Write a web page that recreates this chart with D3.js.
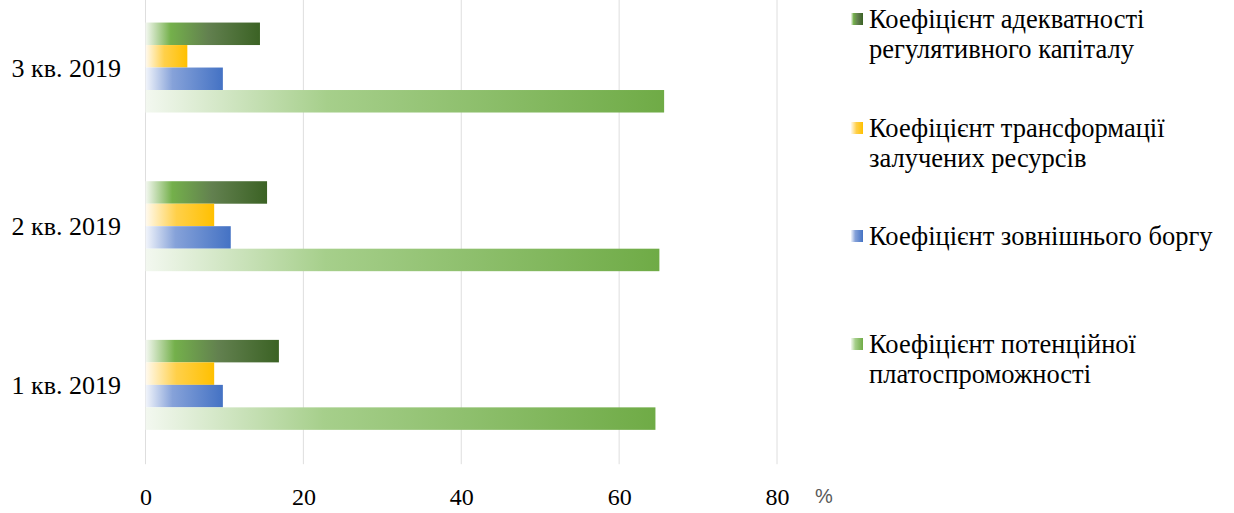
<!DOCTYPE html>
<html>
<head>
<meta charset="utf-8">
<script src="https://cdn.jsdelivr.net/npm/d3@7"></script>
<style>
  body { margin: 0; background: #fff; }
  svg { display: block; }
  svg text { font-family: "Liberation Serif", "Times New Roman", serif; }
</style>
</head>
<body>
<div class="chart"></div>
<script>
// data
const categories = ["3 кв. 2019", "2 кв. 2019", "1 кв. 2019"];
const seriesKeys = ["adequacy", "transformation", "externalDebt", "solvency"];
const seriesLabels = [
  ["Коефіцієнт адекватності", "регулятивного капіталу"],
  ["Коефіцієнт трансформації", "залучених ресурсів"],
  ["Коефіцієнт зовнішнього боргу"],
  ["Коефіцієнт потенційної", "платоспроможності"]
];
// values in category order (3 кв, 2 кв, 1 кв)
const adequacy = [14.5, 15.4, 16.9];
const transformation = [5.3, 8.7, 8.7];
const externalDebt = [9.8, 10.8, 9.8];
const solvency = [65.7, 65.1, 64.6];
const xTicks = [0, 20, 40, 60, 80];

const seriesValues = { adequacy, transformation, externalDebt, solvency };

// gradient stops per series: [offset, colour]
const gradients = {
  adequacy: [[0, "#f4f8f1"], [0.22, "#74b04b"], [0.55, "#62804f"], [1, "#3b6224"]],
  transformation: [[0, "#fffaf0"], [0.45, "#ffd04a"], [1, "#ffc000"]],
  externalDebt: [[0, "#f2f5fb"], [0.35, "#86a2d9"], [1, "#4472c4"]],
  solvency: [[0, "#f3f8f0"], [0.35, "#a6cf8b"], [1, "#6fab46"]]
};

const width = 1234, height = 513;
const serif = "'Liberation Serif', 'Times New Roman', serif";

const svg = d3.select(".chart")
  .append("svg")
  .attr("width", width)
  .attr("height", height);

const defs = svg.append("defs");
seriesKeys.forEach(k => {
  const g = defs.append("linearGradient")
    .attr("id", "grad-" + k)
    .attr("x1", 0).attr("x2", 1).attr("y1", 0).attr("y2", 0);
  g.selectAll("stop")
    .data(gradients[k])
    .join("stop")
    .attr("offset", d => d[0])
    .attr("stop-color", d => d[1]);
});

const plotBottom = 464.2;

const x = d3.scaleLinear()
  .domain([0, 80])
  .range([145.5, 777]);

const y = d3.scaleBand()
  .domain(categories)
  .range([-11.8, plotBottom])
  .paddingInner(0.433)
  .paddingOuter(0.2165);

const ySub = d3.scaleBand()
  .domain(seriesKeys)
  .range([0, y.bandwidth()]);

// gridlines
svg.append("g")
  .selectAll("line")
  .data(xTicks)
  .join("line")
  .attr("x1", d => x(d)).attr("x2", d => x(d))
  .attr("y1", 0).attr("y2", plotBottom)
  .attr("stroke", "#dedede")
  .attr("stroke-width", 1);

// bars
const groups = svg.append("g")
  .selectAll("g")
  .data(categories)
  .join("g")
  .attr("transform", d => `translate(0,${y(d)})`);

groups.selectAll("rect")
  .data((c, i) => seriesKeys.map(k => ({ key: k, value: seriesValues[k][i] })))
  .join("rect")
  .attr("x", x(0))
  .attr("y", d => ySub(d.key))
  .attr("width", d => x(d.value) - x(0))
  .attr("height", ySub.bandwidth())
  .attr("fill", d => `url(#grad-${d.key})`);

// category labels
svg.append("g")
  .selectAll("text")
  .data(categories)
  .join("text")
  .attr("x", 121)
  .attr("y", d => y(d) + y.bandwidth() / 2)
  .attr("dy", "0.35em")
  .attr("text-anchor", "end")
  .style("font-family", serif)
  .style("font-size", "26px")
  .text(d => d);

// x axis labels
const xAxis = svg.append("g")
  .attr("transform", `translate(0,${plotBottom})`)
  .call(d3.axisBottom(x).tickValues(xTicks).tickSize(0).tickPadding(24).tickFormat(d3.format("d")));
xAxis.select(".domain").remove();
xAxis.selectAll("text")
  .style("font-family", serif)
  .style("font-size", "24px")
  .attr("fill", "#000");

svg.append("text")
  .attr("x", 815)
  .attr("y", 503)
  .style("font-family", "'Liberation Sans', Arial, sans-serif")
  .style("font-size", "20px")
  .attr("fill", "#595959")
  .text("%");

// legend
const legendTop = [28, 137, 245, 353];
const legend = svg.append("g")
  .selectAll("g")
  .data(seriesKeys)
  .join("g")
  .attr("transform", (d, i) => `translate(851,${legendTop[i]})`);

legend.append("rect")
  .attr("x", 0)
  .attr("y", -15)
  .attr("width", 12)
  .attr("height", 12)
  .attr("fill", d => `url(#grad-${d})`);

legend.append("text")
  .style("font-family", serif)
  .style("font-size", "26.5px")
  .selectAll("tspan")
  .data((d, i) => seriesLabels[i])
  .join("tspan")
  .attr("x", 18)
  .attr("dy", (d, j) => j === 0 ? 0 : 30)
  .text(d => d);
</script>
</body>
</html>
